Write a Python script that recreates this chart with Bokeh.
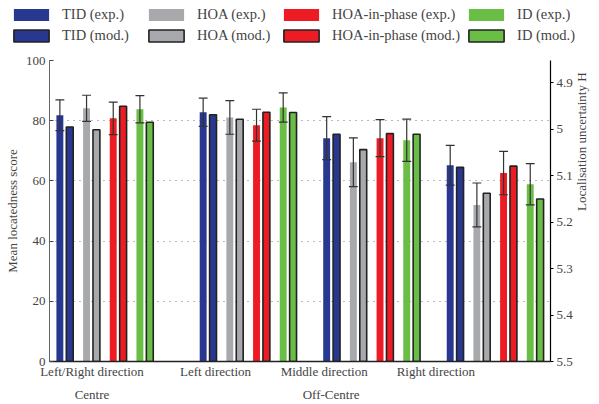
import math
from bokeh.plotting import figure
from bokeh.layouts import column
from bokeh.models import (Range1d, LinearAxis, FixedTicker, CustomJSTickFormatter,
                          NumeralTickFormatter, Legend, LegendItem, ColumnDataSource)
from bokeh.embed import file_html
from bokeh.resources import INLINE

# ---------------- data ----------------
categories = ["Left/Right direction", "Left direction", "Middle direction", "Right direction"]
regions = ["Centre", "Off-Centre"]
methods = ["TID", "HOA", "HOA-in-phase", "ID"]

tid_exp = [81.8, 82.8, 74.2, 65.2]
tid_err = [5.1, 4.7, 7.15, 6.6]
tid_mod = [77.9, 82.0, 75.5, 64.5]

hoa_exp = [84.1, 81.1, 66.2, 52.0]
hoa_err = [4.35, 5.6, 8.1, 7.3]
hoa_mod = [77.0, 80.5, 70.4, 55.9]

hip_exp = [80.8, 78.5, 74.2, 62.6]
hip_err = [5.4, 5.3, 6.15, 7.2]
hip_mod = [84.8, 82.8, 75.7, 64.9]

id_exp = [83.8, 84.4, 73.5, 58.9]
id_err = [4.5, 4.85, 7.0, 6.85]
id_mod = [79.5, 82.7, 75.5, 54.0]

score_ticks = [0, 20, 40, 60, 80, 100]
h_ticks = [4.9, 5.0, 5.1, 5.2, 5.3, 5.4, 5.5]

y_label_left = "Mean locatedness score"
y_label_right = "Localisation uncertainty H"

exp_values = [tid_exp, hoa_exp, hip_exp, id_exp]
err_values = [tid_err, hoa_err, hip_err, id_err]
mod_values = [tid_mod, hoa_mod, hip_mod, id_mod]
colors = ["#283891", "#a7a9ac", "#ed1c24", "#6abd45"]

FONT = "Liberation Serif"
FS = "13px"

# ---------------- layout (positions in code) ----------------
group_centres = [1.0, 2.16, 3.16, 4.16]
pair_step = 0.216
half_pair = 0.04
bar_w = 0.056
cap_half = 0.036
dir_label_pos = [0.896, 1.896, 2.776, 3.68]
region_label_pos = [0.896, 2.832]

NEAREST = """
let best = 0;
for (let i = 1; i < pos.length; i++) {
  if (Math.abs(pos[i] - tick) < Math.abs(pos[best] - tick)) best = i;
}
return labels[best];
"""

p = figure(width=599, height=352, x_range=Range1d(0.552, 4.608), y_range=Range1d(0, 100),
           output_backend="svg", toolbar_location=None,
           min_border_left=49, min_border_right=43, min_border_top=8, min_border_bottom=42)
p.frame_align = False
p.outline_line_color = None
p.background_fill_color = "white"
p.xgrid.grid_line_color = None
p.ygrid.ticker = FixedTicker(ticks=score_ticks[1:])
p.ygrid.grid_line_color = "#777777"
p.ygrid.grid_line_dash = "1 5"
p.ygrid.grid_line_width = 1

# left axis
ya = p.yaxis[0]
ya.ticker = FixedTicker(ticks=score_ticks)
ya.axis_label = y_label_left
ya.axis_label_text_font = FONT
ya.axis_label_text_font_size = FS
ya.axis_label_text_font_style = "normal"
ya.axis_label_standoff = 3
ya.major_label_text_font = FONT
ya.major_label_text_font_size = FS
ya.major_label_standoff = 4
ya.major_tick_in = 4
ya.major_tick_out = 0
ya.minor_tick_line_color = None
ya.axis_line_color = "#666666"
ya.major_tick_line_color = "#444444"

# bottom axis: direction labels
xa = p.xaxis[0]
xa.ticker = FixedTicker(ticks=dir_label_pos)
xa.formatter = CustomJSTickFormatter(args=dict(pos=dir_label_pos, labels=categories), code=NEAREST)
xa.major_label_text_font = FONT
xa.major_label_text_font_size = FS
xa.major_label_standoff = 2
xa.major_tick_in = 0
xa.major_tick_out = 0
xa.minor_tick_line_color = None
xa.axis_line_color = "#222222"
xa.axis_line_width = 1.5

# second bottom axis: region labels
ra = LinearAxis(ticker=FixedTicker(ticks=region_label_pos),
                formatter=CustomJSTickFormatter(args=dict(pos=region_label_pos, labels=regions),
                                                code=NEAREST))
ra.axis_line_color = None
ra.major_tick_line_color = None
ra.minor_tick_line_color = None
ra.major_tick_in = 0
ra.major_tick_out = 0
ra.major_label_text_font = FONT
ra.major_label_text_font_size = FS
ra.major_label_standoff = 5
p.add_layout(ra, "below")

# right axis: localisation uncertainty
p.extra_y_ranges = {"H": Range1d(start=5.5, end=4.852)}
rax = LinearAxis(y_range_name="H", ticker=FixedTicker(ticks=h_ticks),
                 formatter=NumeralTickFormatter(format="0.[0]"))
rax.major_label_text_font = FONT
rax.major_label_text_font_size = FS
rax.major_label_standoff = 3
rax.major_tick_in = 0
rax.major_tick_out = 3
rax.minor_tick_line_color = None
rax.axis_line_color = "black"
rax.axis_line_width = 1.2
p.add_layout(rax, "right")

# right axis title (reads bottom-to-top) as a rotated single tick label
tax = LinearAxis(ticker=FixedTicker(ticks=[50]),
                 formatter=CustomJSTickFormatter(args=dict(t=y_label_right), code="return t;"))
tax.major_label_orientation = math.pi / 2
tax.major_label_text_font = FONT
tax.major_label_text_font_size = FS
tax.major_label_standoff = 0
tax.axis_line_color = None
tax.major_tick_line_color = None
tax.minor_tick_line_color = None
p.add_layout(tax, "right")

# legend strip (separate small figure on top; proxies share the bar data but stay hidden)
lf = figure(width=599, height=52, x_range=Range1d(0, 1), y_range=Range1d(0, 1),
            output_backend="svg", toolbar_location=None,
            x_axis_location=None, y_axis_location=None,
            min_border_left=0, min_border_right=0, min_border_top=0, min_border_bottom=0)
lf.frame_align = False
lf.outline_line_color = None
lf.xgrid.grid_line_color = None
lf.ygrid.grid_line_color = None

items = []
for m, name in enumerate(methods):
    xs_exp = [c + (m - 1.5) * pair_step - half_pair for c in group_centres]
    xs_mod = [c + (m - 1.5) * pair_step + half_pair for c in group_centres]
    vals = exp_values[m]
    errs = err_values[m]
    src = ColumnDataSource(dict(
        x=xs_exp, top=vals,
        lo=[v - e for v, e in zip(vals, errs)],
        hi=[v + e for v, e in zip(vals, errs)],
        cl=[x - cap_half for x in xs_exp],
        cr=[x + cap_half for x in xs_exp],
    ))
    msrc = ColumnDataSource(dict(x=xs_mod, top=mod_values[m]))
    p.vbar(x="x", top="top", bottom=0, width=bar_w, source=src,
           fill_color=colors[m], line_color=None)
    p.vbar(x="x", top="top", bottom=0, width=bar_w, source=msrc,
           fill_color=colors[m], line_color="#222222", line_width=1.6)
    p.segment(x0="x", y0="lo", x1="x", y1="hi", source=src, line_color="#333333", line_width=1.2)
    p.segment(x0="cl", y0="hi", x1="cr", y1="hi", source=src, line_color="#333333", line_width=1.2)
    p.segment(x0="cl", y0="lo", x1="cr", y1="lo", source=src, line_color="#333333", line_width=1.2)

    l_exp = lf.vbar(x="x", top="top", bottom=0, width=bar_w, source=src,
                    fill_color=colors[m], line_color=None, visible=False)
    l_mod = lf.vbar(x="x", top="top", bottom=0, width=bar_w, source=msrc,
                    fill_color=colors[m], line_color="#222222", line_width=1.6, visible=False)
    items.append(LegendItem(label=f"{name} (exp.)", renderers=[l_exp], index=0))
    items.append(LegendItem(label=f"{name} (mod.)", renderers=[l_mod], index=0))

legend = Legend(items=items, orientation="vertical", nrows=2, location=(9, 8),
                glyph_width=44, glyph_height=15, label_standoff=9, spacing=4,
                padding=0, margin=0, border_line_color=None, background_fill_alpha=0,
                inactive_fill_alpha=0,
                label_text_font=FONT, label_text_font_size="14.5px", label_width=78)
lf.add_layout(legend, "center")

layout = column(lf, p, spacing=0)
open("out.html", "w").write(file_html(layout, INLINE))
